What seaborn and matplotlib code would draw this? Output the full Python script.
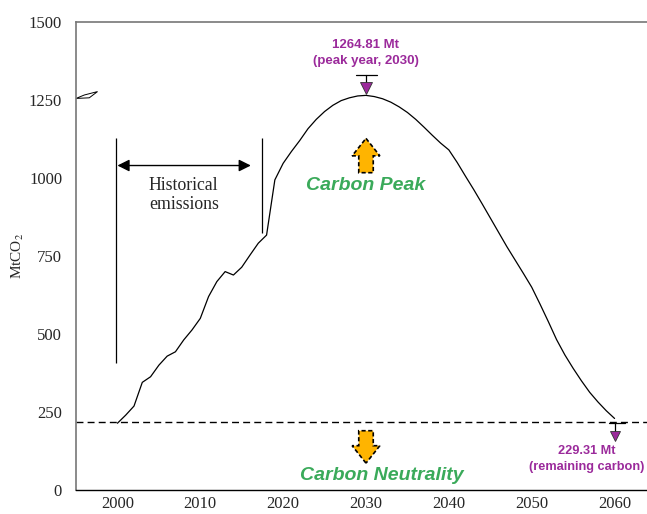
import matplotlib
matplotlib.use("Agg")
import matplotlib.pyplot as plt
import seaborn as sns
import pandas as pd
from matplotlib.patches import FancyArrow, Polygon

# ---------------- data ----------------
years = list(range(2000, 2061))
emissions = [
    214, 240, 269, 345, 363, 400, 429, 443, 481, 513,      # 2000-2009
    550, 620, 668, 700, 689, 714, 753, 791, 817, 994,      # 2010-2019
    1047, 1085, 1120, 1158, 1188, 1213, 1233, 1248, 1257, 1263,  # 2020-2029
    1264.81, 1261, 1254, 1243, 1228, 1210, 1188, 1163, 1137, 1112,  # 2030-2039
    1090, 1050, 1006, 963, 918, 872, 826, 780, 737, 694,   # 2040-2049
    650, 596, 540, 482, 433, 390, 350, 313, 282, 254,      # 2050-2059
    229.31,                                                # 2060
]
neutral_level = 218
peak_label = "1264.81 Mt\n(peak year, 2030)"
remain_label = "229.31 Mt\n(remaining carbon)"
x_ticks = [2000, 2010, 2020, 2030, 2040, 2050, 2060]
y_ticks = [0, 250, 500, 750, 1000, 1250, 1500]

df = pd.DataFrame({"year": years, "emissions": emissions})

sns.set_style("white")
plt.rcParams["font.family"] = ["Liberation Serif", "DejaVu Serif"]
plt.rcParams["mathtext.fontset"] = "stix"

W, H = 647, 514
fig = plt.figure(figsize=(W / 100, H / 100), dpi=100)
ax_left, ax_right = 76, 656
ax_top, ax_bot = 22, 490
ax = fig.add_axes([ax_left / W, 1 - ax_bot / H, (ax_right - ax_left) / W, (ax_bot - ax_top) / H])

sns.lineplot(data=df, x="year", y="emissions", ax=ax, color="black", lw=0.9)

ax.set_xlim(1995, 2065)
ax.set_ylim(0, 1500)
ax.set_xticks(x_ticks)
ax.set_yticks(y_ticks)
ax.tick_params(axis="both", labelsize=12, direction="out")
ax.tick_params(axis="y", length=7, width=0.6, color="#666666", pad=3)
ax.tick_params(axis="x", length=0, pad=4)
ax.set_xlabel("")
ax.set_ylabel("MtCO$_2$", fontsize=11, labelpad=2)

for s in ["left", "top"]:
    ax.spines[s].set_color("#777777")
    ax.spines[s].set_linewidth(1.2)
ax.spines["bottom"].set_color("black")
ax.spines["bottom"].set_linewidth(1.0)
ax.spines["right"].set_visible(False)

# small artifact glyph at left
ax.add_patch(Polygon([(1995.0, 1255), (1996.6, 1257), (1997.6, 1277), (1996.0, 1266)],
                     closed=True, fill=False, edgecolor="black", lw=0.7, clip_on=False))

# neutrality dashed line
ax.axhline(neutral_level, color="black", ls=(0, (5, 3)), lw=1.0)

# historical emissions markers
ax.vlines(2000 - 0.2, 406, 1127, color="black", lw=0.9)
ax.vlines(2017.5, 823, 1127, color="black", lw=0.9)
ax.annotate("", xy=(2000, 1040), xytext=(2016.1, 1040),
            arrowprops=dict(arrowstyle="<|-|>", color="black", lw=1.0, mutation_scale=18,
                            shrinkA=0, shrinkB=0))
ax.text(2008, 945, "Historical\nemissions", ha="center", va="center", fontsize=12.8,
        linespacing=1.2)

purple = "#9B2A9B"
green = "#3AAA5A"
orange = "#FFB400"

# peak annotation
ax.plot([2028.8, 2031.3], [1330, 1330], color="black", lw=0.9)
ax.plot([2030, 2030], [1330, 1305], color="black", lw=0.9)
ax.plot([2030], [1290], marker="v", markersize=8, color=purple, markeredgecolor="#333333",
        markeredgewidth=0.6)
ax.text(2030, 1400, peak_label, ha="center", va="center", fontsize=9.5, fontweight="bold",
        color=purple, family=["Liberation Sans", "DejaVu Sans"], linespacing=1.4)

# up arrow (carbon peak)
ax.add_patch(FancyArrow(2030, 1017, 0, 110, width=1.75, head_width=3.35, head_length=56,
                        length_includes_head=True, facecolor=orange, edgecolor="black",
                        linestyle=(0, (2.5, 1.5)), lw=1.2))
ax.text(2030, 975, "Carbon Peak", ha="center", va="center", fontsize=14, fontweight="bold",
        fontstyle="italic", color=green, family=["Liberation Sans", "DejaVu Sans"])

# down arrow (carbon neutrality)
ax.add_patch(FancyArrow(2030, 190, 0, -104, width=1.75, head_width=3.35, head_length=56,
                        length_includes_head=True, facecolor=orange, edgecolor="black",
                        linestyle=(0, (2.5, 1.5)), lw=1.2))
ax.text(2031.9, 45, "Carbon Neutrality", ha="center", va="center", fontsize=14,
        fontweight="bold", fontstyle="italic", color=green,
        family=["Liberation Sans", "DejaVu Sans"])

# remaining carbon annotation
ax.plot([2059.3, 2061.3], [214, 214], color="black", lw=0.9)
ax.plot([2060, 2060], [214, 188], color="black", lw=0.9)
ax.plot([2060], [172], marker="v", markersize=7, color=purple, markeredgecolor="#333333",
        markeredgewidth=0.6)
ax.text(2056.6, 100, remain_label, ha="center", va="center", fontsize=9.2, fontweight="bold",
        color=purple, family=["Liberation Sans", "DejaVu Sans"], linespacing=1.4,
        clip_on=False)

fig.savefig("out.png", dpi=100)
